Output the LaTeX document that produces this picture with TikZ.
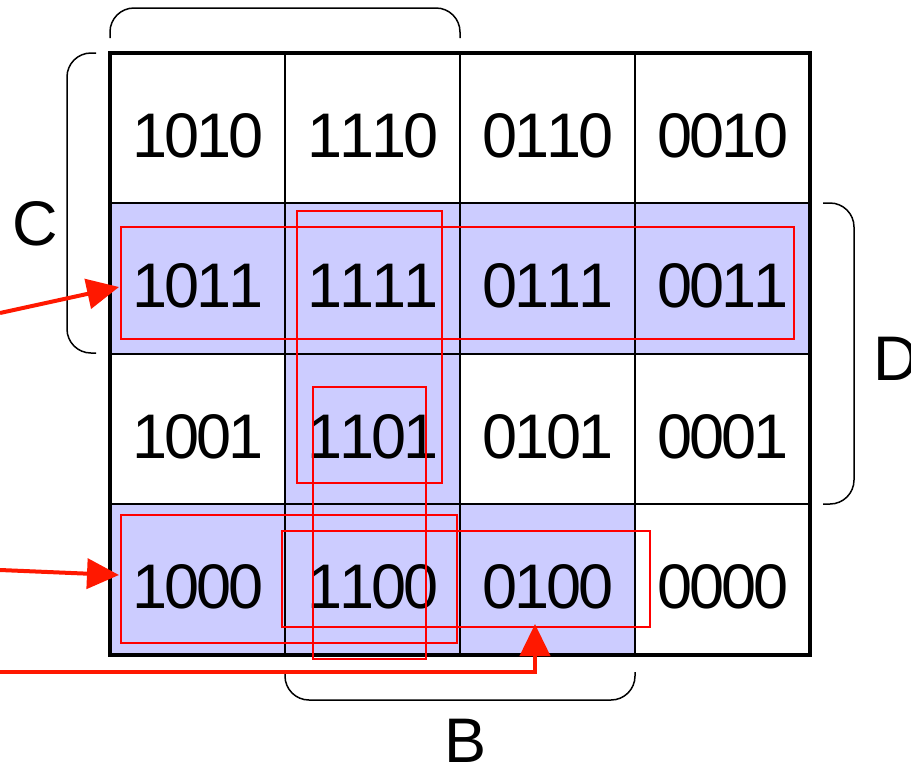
\documentclass[tikz,border=0pt]{standalone}
\usepackage{fontspec}
\setmainfont{Liberation Sans}
\usetikzlibrary{arrows.meta}
\definecolor{cellblue}{RGB}{204,204,255}
\definecolor{arrred}{RGB}{255,24,0}
\newcommand\kbits[4]{\makebox[32pt]{#1}\makebox[32pt]{#2}\makebox[32pt]{#3}\makebox[32pt]{#4}}
\begin{document}
\begin{tikzpicture}[x=1pt,y=-1pt,
 cell/.style={anchor=base,inner sep=0pt,font=\fontsize{63}{63}\selectfont},
 lbl/.style={anchor=base west,inner sep=0pt,font=\fontsize{63}{63}\selectfont},
 grp/.style={draw=red,line width=1.3pt},
 ptr/.style={draw=arrred,line width=4pt,-{Triangle[length=32pt,width=30pt]}},
 brace/.style={draw=black,line width=1.5pt,rounded corners=24pt},
 thin/.style={line width=1.6pt},
 outer/.style={line width=4.2pt}]
\useasboundingbox (0,0) rectangle (911,764);
% blue fills
\fill[cellblue] (110,203) rectangle (810,354);
\fill[cellblue] (285,354) rectangle (460,504);
\fill[cellblue] (110,504) rectangle (635,655);
% grid
\draw[thin] (285,53) -- (285,655);
\draw[thin] (460,53) -- (460,655);
\draw[thin] (635,53) -- (635,655);
\draw[thin] (110,203) -- (810,203);
\draw[thin] (110,354) -- (810,354);
\draw[thin] (110,504) -- (810,504);
\draw[outer] (110,53) rectangle (810,655);
% cells
\node[cell] (c1010) at (198.5,157) {\kbits1010};
\node[cell] (c1110) at (373.5,157) {\kbits1110};
\node[cell] (c0110) at (548.5,157) {\kbits0110};
\node[cell] (c0010) at (723.5,157) {\kbits0010};
\node[cell] (c1011) at (198.5,307) {\kbits1011};
\node[cell] (c1111) at (373.5,307) {\kbits1111};
\node[cell] (c0111) at (548.5,307) {\kbits0111};
\node[cell] (c0011) at (723.5,307) {\kbits0011};
\node[cell] (c1001) at (198.5,458) {\kbits1001};
\node[cell] (c1101) at (373.5,458) {\kbits1101};
\node[cell] (c0101) at (548.5,458) {\kbits0101};
\node[cell] (c0001) at (723.5,458) {\kbits0001};
\node[cell] (c1000) at (198.5,608) {\kbits1000};
\node[cell] (c1100) at (373.5,608) {\kbits1100};
\node[cell] (c0100) at (548.5,608) {\kbits0100};
\node[cell] (c0000) at (723.5,608) {\kbits0000};
% red groups
\draw[grp] (121,227) rectangle (794,339);
\draw[grp] (297,211) rectangle (442,483);
\draw[grp] (313,387) rectangle (426,659);
\draw[grp] (121,515) rectangle (457,643);
\draw[grp] (282,531) rectangle (650,627);
% braces
\draw[brace] (110,38) -- (110,8) -- (460,8) -- (460,38);
\draw[brace] (96,53) -- (67,53) -- (67,353) -- (96,353);
\draw[brace] (823,203) -- (854,203) -- (854,504) -- (823,504);
\draw[brace] (285,674) -- (285,700) -- (635,700) -- (635,672);
% labels
\node[lbl] (lC) at (12,245) {C};
\node[lbl] (lD) at (873,380) {D};
\node[lbl] (lB) at (444,762) {B};
% arrows
\coordinate (s1) at (0,313);
\coordinate (t1) at (119,287);
\coordinate (s2) at (0,570);
\coordinate (t2) at (119,575);
\coordinate (s3) at (0,672);
\coordinate (t3) at (535,624);
\draw[ptr] (s1) -- (t1);
\draw[ptr] (s2) -- (t2);
\draw[ptr] (s3) -| (t3);
\end{tikzpicture}
\end{document}
